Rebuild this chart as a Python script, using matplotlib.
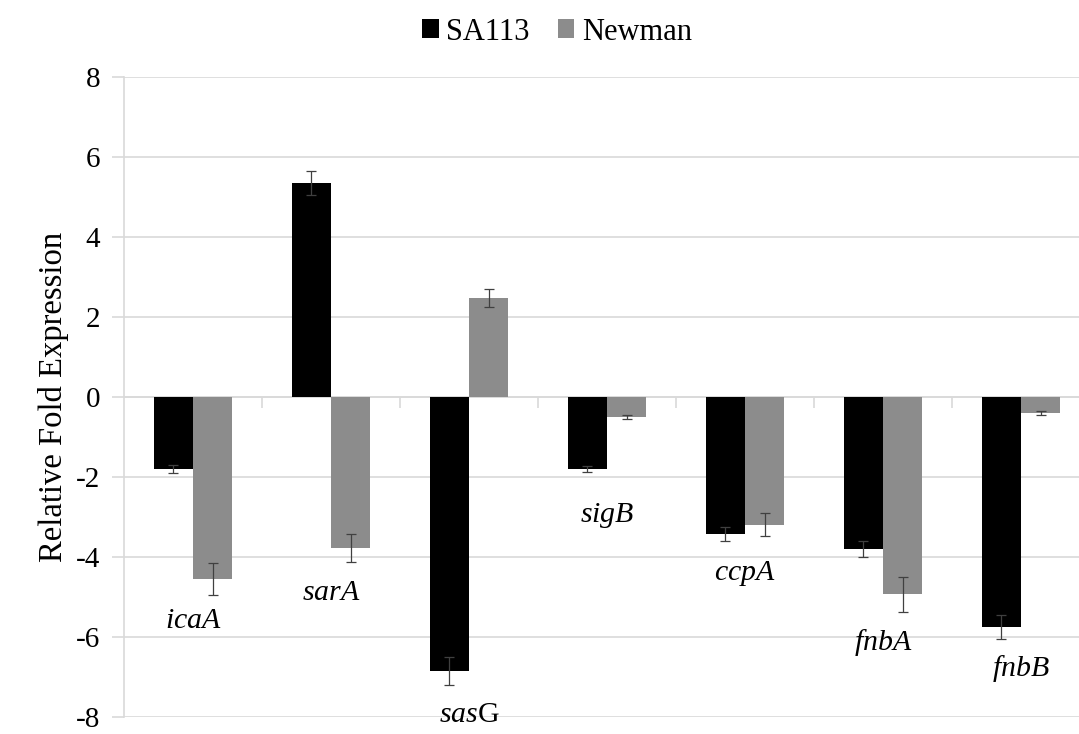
import matplotlib
matplotlib.use("Agg")
import matplotlib.pyplot as plt
import numpy as np

# data
genes = ["icaA", "sarA", "sasG", "sigB", "ccpA", "fnbA", "fnbB"]
gene_labels = [r"$\mathit{icaA}$", r"$\mathit{sarA}$", r"$\mathit{sas}\mathrm{G}$",
               r"$\mathit{sigB}$", r"$\mathit{ccpA}$", r"$\mathit{fnbA}$", r"$\mathit{fnbB}$"]
sa113 = [-1.80, 5.35, -6.85, -1.80, -3.42, -3.80, -5.75]
sa113_err = [0.10, 0.30, 0.35, 0.08, 0.18, 0.20, 0.29]
newman = [-4.55, -3.77, 2.48, -0.50, -3.19, -4.93, -0.40]
newman_err = [0.40, 0.35, 0.22, 0.05, 0.29, 0.44, 0.04]
label_y = [-5.6, -4.9, -7.95, -2.95, -4.4, -6.15, -6.8]

plt.rcParams['font.family'] = ['Liberation Serif', 'DejaVu Serif']
plt.rcParams['mathtext.fontset'] = 'custom'
plt.rcParams['mathtext.it'] = 'Liberation Serif:italic'
plt.rcParams['mathtext.rm'] = 'Liberation Serif'

fig = plt.figure(figsize=(10.79, 7.34), dpi=100)
W, H = 1079, 734
ax = fig.add_axes([124 / W, 1 - 717 / H, 966 / W, 640 / H])

x = np.arange(len(genes)) + 0.5
bw = 0.285
grid_c = "#d9d9d9"

ax.bar(x - bw / 2, sa113, width=bw, color="black", label="SA113", zorder=3)
ax.bar(x + bw / 2, newman, width=bw, color="#8c8c8c", label="Newman", zorder=3)
ax.errorbar(x - bw / 2, sa113, yerr=sa113_err, fmt="none", ecolor="#404040",
            elinewidth=0.9, capsize=3.5, capthick=0.9, zorder=4)
ax.errorbar(x + bw / 2, newman, yerr=newman_err, fmt="none", ecolor="#404040",
            elinewidth=0.9, capsize=3.5, capthick=0.9, zorder=4)

for xi, yi, lab in zip(x, label_y, gene_labels):
    ax.text(xi, yi, lab, ha="center", va="center", fontsize=21.5, zorder=5)

ax.set_xlim(0, 7)
ax.set_ylim(-8, 8)
ax.set_yticks(np.arange(-8, 9, 2))
ax.set_yticklabels([str(v) for v in range(-8, 9, 2)], fontsize=21)
ax.yaxis.grid(True, color=grid_c, linewidth=1.2, zorder=0)
ax.tick_params(axis="y", length=9, color=grid_c, width=1.2, pad=8)

ax.set_xticks(np.arange(1, 7))
ax.set_xticklabels([])
ax.tick_params(axis="x", direction="out", length=8, color=grid_c, width=1.2)

for s in ["top", "right"]:
    ax.spines[s].set_visible(False)
ax.spines["bottom"].set_position(("data", 0))
ax.spines["bottom"].set_color(grid_c)
ax.spines["bottom"].set_linewidth(1.2)
ax.spines["left"].set_color(grid_c)
ax.spines["left"].set_linewidth(1.2)

ax.set_ylabel("Relative Fold Expression", fontsize=23.5, labelpad=5)

fig.legend(loc="center", bbox_to_anchor=(557 / W, 1 - 32 / H), ncol=2, frameon=False,
           fontsize=22, handlelength=0.55, handleheight=0.55, handletextpad=0.25,
           columnspacing=0.9)

fig.savefig("out.png", dpi=100)
